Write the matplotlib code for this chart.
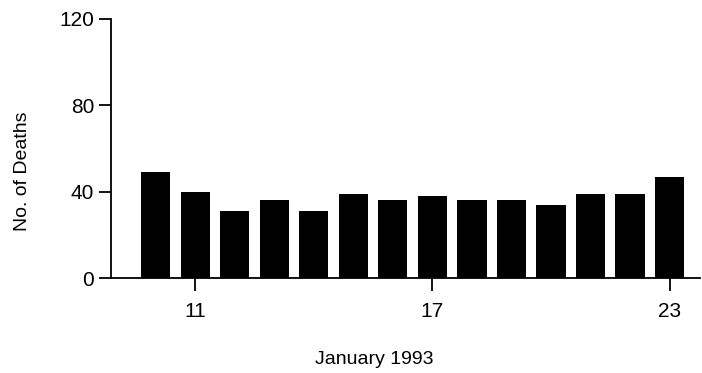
import matplotlib
matplotlib.use("Agg")
import matplotlib.pyplot as plt

# Daily death counts, January 10-23, 1993
days = [10, 11, 12, 13, 14, 15, 16, 17, 18, 19, 20, 21, 22, 23]
deaths = [49, 40, 31, 36, 31, 39, 36, 38, 36, 36, 34, 39, 39, 47]
x_ticks = [11, 17, 23]
y_ticks = [0, 40, 80, 120]

plt.rcParams['font.family'] = ['Liberation Sans', 'DejaVu Sans']

W, H = 702, 373
fig = plt.figure(figsize=(W / 100, H / 100), dpi=100)
ax = fig.add_axes([111 / W, 1 - 278 / H, (700 - 111) / W, (278 - 19) / H])

ax.bar(days, deaths, width=0.74, color='black', edgecolor='none')

ax.set_xlim(8.87, 23.77)
ax.set_ylim(0, 120)
ax.set_xticks(x_ticks)
ax.set_yticks(y_ticks)
ax.tick_params(axis='both', direction='out', length=9, width=1.3,
               labelsize=15, color='black')
ax.tick_params(axis='y', pad=3)
ax.tick_params(axis='x', pad=8)

for side in ('top', 'right'):
    ax.spines[side].set_visible(False)
for side in ('left', 'bottom'):
    ax.spines[side].set_linewidth(1.3)

fig.text(23 / W, 1 - 171 / H, 'No. of Deaths', fontsize=14, rotation=90,
         ha='center', va='center')
fig.text(374 / W, 1 - 360 / H, 'January 1993', fontsize=14,
         ha='center', va='center')

fig.savefig('out.png', dpi=100, facecolor='white')
